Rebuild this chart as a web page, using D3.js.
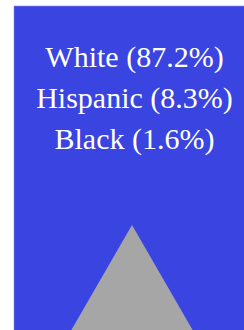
<!DOCTYPE html>
<html>
<head>
<meta charset="utf-8">
<script src="https://cdn.jsdelivr.net/npm/d3@7"></script>
<style>
  body { margin: 0; background: #fff; }
  svg { display: block; }
  .lbl { font-family: "Times New Roman", "Liberation Serif", "DejaVu Serif", serif; font-size: 30px; }
</style>
</head>
<body>
<script>
var groups = ["White", "Hispanic", "Black"];
var shares = [87.2, 8.3, 1.6];

var width = 244, height = 330;

// cell spans the page to the right edge (it is cut off there)
var xScale = d3.scaleLinear().domain([0, 1]).range([14, 262]);
var yScale = d3.scaleLinear().domain([0, 1]).range([6, 340]);
var lineY = d3.scalePoint().domain(groups).range([67, 149]);

var svg = d3.select("body").append("svg")
    .attr("width", width)
    .attr("height", height);

svg.append("rect")
    .attr("x", xScale(0))
    .attr("y", yScale(0))
    .attr("width", xScale(1) - xScale(0))
    .attr("height", yScale(1) - yScale(0))
    .attr("fill", "#3a44e0")
    .attr("stroke", "#8f95ee")
    .attr("stroke-width", 0.6);

svg.append("g")
    .selectAll("text")
    .data(groups)
    .enter().append("text")
    .attr("class", "lbl")
    .attr("x", 134.5)
    .attr("y", function(d) { return lineY(d); })
    .attr("text-anchor", "middle")
    .attr("fill", "#ffffff")
    .text(function(d, i) { return d + " (" + shares[i] + "%)"; });

// grey marker at the bottom
var apex = [132, 225], depth = 200, slope = Math.tan(Math.PI / 6);
var tri = [apex, [apex[0] - depth * slope, apex[1] + depth], [apex[0] + depth * slope, apex[1] + depth]];
svg.append("path")
    .attr("d", d3.line()(tri) + "Z")
    .attr("fill", "#a6a6a6");
</script>
</body>
</html>
